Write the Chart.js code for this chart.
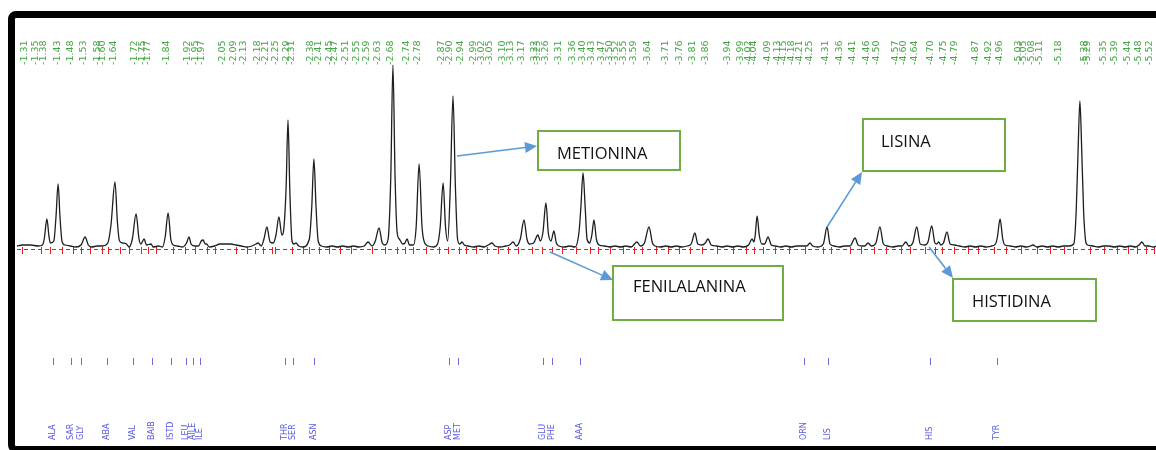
<!DOCTYPE html>
<html>
<head>
<meta charset="utf-8">
<script src="https://cdn.jsdelivr.net/npm/chart.js@4"></script>
<style>
  html, body { margin: 0; padding: 0; background: #fff; }
  #wrap { position: relative; width: 1156px; height: 450px; overflow: hidden; }
  #chart { position: absolute; left: 0; top: 0; }
  #frame {
    position: absolute; left: 8px; top: 11px; width: 1220px; height: 442px;
    box-sizing: border-box; border: 7px solid #000; border-radius: 8px;
  }
</style>
</head>
<body>
<div id="wrap">
  <canvas id="chart" width="1156" height="450"></canvas>
  <div id="frame"></div>
</div>
<script>
// Peak retention times printed above the trace (min)
const peakLabels = [1.31, 1.35, 1.38, 1.43, 1.48, 1.53, 1.58, 1.60, 1.64, 1.72, 1.75, 1.77, 1.84,
  1.92, 1.95, 1.97, 2.05, 2.09, 2.13, 2.18, 2.21, 2.25, 2.29, 2.31, 2.38, 2.41, 2.45, 2.47,
  2.51, 2.55, 2.59, 2.63, 2.68, 2.74, 2.78, 2.87, 2.90, 2.94, 2.99, 3.02, 3.05, 3.10, 3.13,
  3.17, 3.22, 3.23, 3.26, 3.31, 3.36, 3.40, 3.43, 3.47, 3.50, 3.52, 3.55, 3.59, 3.64, 3.71,
  3.76, 3.81, 3.86, 3.94, 3.99, 4.02, 4.04, 4.09, 4.13, 4.15, 4.18, 4.21, 4.25, 4.31, 4.36,
  4.41, 4.46, 4.50, 4.57, 4.60, 4.64, 4.70, 4.75, 4.79, 4.87, 4.92, 4.96, 5.03, 5.05, 5.08,
  5.11, 5.18, 5.28, 5.29, 5.35, 5.39, 5.44, 5.48, 5.52];

// Expected positions of the amino acids (blue marks at the bottom)
const aminoNames = ['ALA', 'SAR', 'GLY', 'ABA', 'VAL', 'BAIB', 'ISTD', 'LEU', 'AILE', 'ILE',
  'THR', 'SER', 'ASN', 'ASP', 'MET', 'GLU', 'PHE', 'AAA', 'ORN', 'LIS', 'HIS', 'TYR'];
const aminoTimes = [1.415, 1.482, 1.520, 1.617, 1.714, 1.786, 1.857, 1.913, 1.939, 1.965,
  2.284, 2.314, 2.392, 2.898, 2.932, 3.250, 3.284, 3.389, 4.228, 4.317, 4.699, 4.950];

// Integration cut marks on the baseline
const cutTimes = [1.30, 1.37, 1.405, 1.45, 1.49, 1.52, 1.555, 1.60, 1.62, 1.665, 1.70, 1.745,
  1.77, 1.80, 1.865, 1.91, 1.945, 1.99, 2.02, 2.10, 2.14, 2.17, 2.20, 2.235, 2.248, 2.31,
  2.35, 2.375, 2.41, 2.45, 2.49, 2.53, 2.61, 2.66, 2.705, 2.735, 2.765, 2.81, 2.86, 2.895,
  2.935, 2.96, 3.00, 3.04, 3.08, 3.12, 3.155, 3.21, 3.245, 3.285, 3.32, 3.375, 3.425, 3.455,
  3.50, 3.55, 3.59, 3.62, 3.675, 3.72, 3.76, 3.80, 3.845, 3.90, 3.96, 4.01, 4.04, 4.075,
  4.12, 4.17, 4.23, 4.30, 4.33, 4.40, 4.44, 4.49, 4.535, 4.59, 4.625, 4.68, 4.72, 4.745,
  4.79, 4.84, 4.88, 4.94, 4.985, 5.04, 5.10, 5.15, 5.20, 5.235, 5.30, 5.35, 5.40, 5.44,
  5.475, 5.51, 5.54];

// Detector trace: [time, signal]
const trace = [
  [1.28, 1], [1.30, 2], [1.33, 2], [1.36, 1], [1.375, 2],
  [1.382, 8], [1.392, 28], [1.400, 10], [1.405, 4],
  [1.418, 6], [1.426, 30], [1.434, 63], [1.441, 30], [1.449, 5], [1.46, 2], [1.48, 1], [1.50, 0], [1.52, 2],
  [1.535, 10], [1.547, 2], [1.56, 0], [1.58, 1], [1.60, 1], [1.62, 4],
  [1.632, 22], [1.647, 65], [1.656, 25], [1.664, 6], [1.675, 4], [1.69, 3], [1.70, 0], [1.712, 8],
  [1.726, 33], [1.737, 8], [1.744, 3], [1.756, 8], [1.765, 2], [1.782, 3], [1.79, 0], [1.81, 1], [1.825, 0], [1.835, 10],
  [1.846, 34], [1.856, 8], [1.865, 2], [1.88, 1], [1.90, 0], [1.915, 4], [1.924, 10], [1.932, 3], [1.945, 1],
  [1.96, 1], [1.97, 6], [1.977, 7], [1.985, 3], [1.99, 3], [2.00, 0], [2.02, 1], [2.04, 3], [2.06, 3], [2.08, 3],
  [2.10, 2], [2.12, 1], [2.14, 0], [2.16, 1], [2.175, 3], [2.183, 4], [2.195, 1], [2.205, 8],
  [2.216, 20], [2.228, 5], [2.24, 4], [2.25, 12], [2.261, 30], [2.272, 12], [2.280, 20],
  [2.288, 60], [2.295, 127], [2.302, 55], [2.310, 6], [2.318, 3], [2.325, 4], [2.335, 1], [2.35, 0],
  [2.375, 8], [2.384, 40], [2.392, 88], [2.400, 40], [2.408, 6], [2.42, 1], [2.44, 0], [2.46, 1], [2.48, 0],
  [2.50, 1], [2.52, 0], [2.54, 1], [2.56, 0], [2.58, 1], [2.595, 5], [2.61, 1], [2.622, 6], [2.636, 19],
  [2.648, 4], [2.658, 2],
  [2.670, 8], [2.680, 70], [2.688, 182], [2.696, 70], [2.704, 14], [2.712, 8], [2.725, 3], [2.733, 4],
  [2.741, 8], [2.750, 2], [2.765, 2], [2.775, 20], [2.786, 83], [2.797, 20], [2.807, 4], [2.82, 1], [2.84, 0],
  [2.855, 3], [2.865, 20], [2.876, 64], [2.885, 20], [2.893, 6],
  [2.903, 60], [2.913, 151], [2.922, 60], [2.930, 8], [2.938, 3], [2.947, 5], [2.955, 2], [2.97, 1],
  [2.99, 0], [3.01, 1], [3.03, 0], [3.045, 2], [3.059, 4], [3.07, 1], [3.09, 0], [3.11, 1], [3.125, 2],
  [3.138, 5], [3.15, 1], [3.165, 8], [3.179, 27], [3.19, 8], [3.20, 3], [3.215, 4], [3.231, 12], [3.24, 6],
  [3.250, 15], [3.261, 44], [3.270, 14], [3.280, 6], [3.291, 16], [3.30, 4], [3.31, 1], [3.33, 0], [3.35, 1],
  [3.37, 0], [3.385, 15], [3.392, 40], [3.400, 74], [3.408, 40], [3.415, 8], [3.425, 4], [3.433, 12],
  [3.441, 27], [3.450, 8], [3.46, 2], [3.48, 1], [3.50, 0], [3.52, 1], [3.54, 0], [3.56, 1], [3.58, 0],
  [3.602, 5], [3.615, 1], [3.63, 4], [3.647, 20], [3.66, 4], [3.67, 1], [3.69, 0], [3.71, 1], [3.73, 0],
  [3.75, 1], [3.77, 0], [3.79, 1], [3.805, 3], [3.819, 14], [3.83, 3], [3.845, 2], [3.858, 4], [3.868, 8],
  [3.88, 2], [3.90, 1], [3.92, 0], [3.94, 1], [3.96, 0], [3.98, 1], [4.00, 0], [4.02, 2], [4.033, 8],
  [4.04, 5], [4.045, 12], [4.052, 31], [4.06, 12], [4.07, 3], [4.08, 3], [4.093, 10], [4.105, 2], [4.12, 1],
  [4.14, 0], [4.16, 1], [4.18, 0], [4.20, 1], [4.22, 1], [4.238, 1], [4.250, 4], [4.26, 1], [4.28, 0],
  [4.30, 3], [4.314, 20], [4.325, 3], [4.34, 1], [4.36, 0], [4.38, 1], [4.40, 1], [4.419, 9], [4.43, 2],
  [4.445, 1], [4.455, 1], [4.468, 4], [4.48, 1], [4.497, 4], [4.512, 20], [4.525, 3], [4.54, 1], [4.56, 0],
  [4.58, 1], [4.595, 1], [4.609, 5], [4.62, 1], [4.635, 4], [4.650, 20], [4.663, 3], [4.68, 2], [4.692, 5],
  [4.706, 21], [4.718, 4], [4.725, 3], [4.732, 5], [4.74, 2], [4.75, 4], [4.763, 15], [4.775, 3], [4.79, 2],
  [4.81, 1], [4.83, 0], [4.85, 1], [4.87, 0], [4.89, 1], [4.91, 0], [4.93, 1], [4.945, 3], [4.952, 10],
  [4.962, 28], [4.972, 8], [4.98, 2], [5.00, 1], [5.02, 0], [5.04, 1], [5.06, 0], [5.075, 1], [5.085, 2],
  [5.10, 0], [5.12, 1], [5.14, 0], [5.16, 1], [5.18, 0], [5.20, 1], [5.22, 1], [5.238, 3], [5.247, 35],
  [5.254, 95], [5.261, 146], [5.268, 95], [5.275, 35], [5.284, 4], [5.29, 2], [5.31, 1], [5.33, 0],
  [5.35, 1], [5.37, 1], [5.39, 0], [5.41, 1], [5.43, 0], [5.45, 1], [5.47, 0], [5.483, 2], [5.493, 5],
  [5.505, 1], [5.52, 1], [5.535, 0], [5.55, 1]
];

// Callouts: name, the point on the trace the arrow leaves from
const calloutNames = ['METIONINA', 'FENILALANINA', 'LISINA', 'HISTIDINA'];
const calloutTimes = [2.928, 3.276, 4.314, 4.696];
const calloutLevels = [91, -5, 20, 0];

// Box geometry for the callouts (pixels)
const calloutBoxes = [
  { x: 538, y: 131, w: 142, h: 39, tx: 557, ty: 154, tip: [537, 146] },
  { x: 613, y: 266, w: 170, h: 54, tx: 633, ty: 287, tip: [613, 280] },
  { x: 863, y: 119, w: 142, h: 52, tx: 881, ty: 142, tip: [862, 172] },
  { x: 953, y: 279, w: 143, h: 42, tx: 972, ty: 302, tip: [953, 278] }
];

function drawArrow(ctx, x1, y1, x2, y2) {
  const ang = Math.atan2(y2 - y1, x2 - x1);
  const len = 12, half = 5.5;
  const bx = x2 - len * Math.cos(ang), by = y2 - len * Math.sin(ang);
  ctx.strokeStyle = '#5b9bd5';
  ctx.fillStyle = '#5b9bd5';
  ctx.lineWidth = 1.6;
  ctx.beginPath();
  ctx.moveTo(x1, y1);
  ctx.lineTo(bx, by);
  ctx.stroke();
  ctx.beginPath();
  ctx.moveTo(x2, y2);
  ctx.lineTo(bx - half * Math.sin(ang), by + half * Math.cos(ang));
  ctx.lineTo(bx + half * Math.sin(ang), by - half * Math.cos(ang));
  ctx.closePath();
  ctx.fill();
}

const decorPlugin = {
  id: 'decor',
  beforeDatasetsDraw(chart) {
    const ctx = chart.ctx, xs = chart.scales.x, ys = chart.scales.y;
    const yb = ys.getPixelForValue(-2);
    ctx.save();
    // red dashed baseline
    ctx.strokeStyle = '#e61e1e';
    ctx.lineWidth = 1;
    ctx.setLineDash([4, 3]);
    ctx.beginPath();
    ctx.moveTo(chart.chartArea.left, yb + 0.5);
    ctx.lineTo(chart.chartArea.right, yb + 0.5);
    ctx.stroke();
    ctx.setLineDash([]);
    // cut marks
    cutTimes.forEach(t => {
      const x = Math.round(xs.getPixelForValue(t)) + 0.5;
      ctx.beginPath();
      ctx.moveTo(x, yb - 2);
      ctx.lineTo(x, yb + 5);
      ctx.stroke();
    });
    ctx.restore();
  },
  afterDraw(chart) {
    const ctx = chart.ctx, xs = chart.scales.x, ys = chart.scales.y;
    ctx.save();
    // green retention time labels
    ctx.fillStyle = '#45a445';
    ctx.font = '9.5px "DejaVu Sans"';
    ctx.textAlign = 'left';
    ctx.textBaseline = 'middle';
    peakLabels.forEach(t => {
      ctx.save();
      ctx.translate(xs.getPixelForValue(t), 65);
      ctx.rotate(-Math.PI / 2);
      ctx.fillText('-' + t.toFixed(2), 0, 0);
      ctx.restore();
    });
    // blue amino acid marks and names
    ctx.strokeStyle = '#6b6be6';
    ctx.fillStyle = '#5a5ae0';
    ctx.font = '8px "DejaVu Sans"';
    ctx.lineWidth = 1;
    aminoTimes.forEach((t, i) => {
      const x = xs.getPixelForValue(t);
      ctx.beginPath();
      ctx.moveTo(Math.round(x) + 0.5, 358);
      ctx.lineTo(Math.round(x) + 0.5, 365);
      ctx.stroke();
      ctx.save();
      ctx.translate(x, 440);
      ctx.rotate(-Math.PI / 2);
      ctx.fillText(aminoNames[i], 0, 0);
      ctx.restore();
    });
    // callouts
    calloutNames.forEach((name, i) => {
      const b = calloutBoxes[i];
      ctx.fillStyle = '#fff';
      ctx.fillRect(b.x, b.y, b.w, b.h);
      ctx.strokeStyle = '#70ad47';
      ctx.lineWidth = 2;
      ctx.strokeRect(b.x, b.y, b.w, b.h);
      ctx.fillStyle = '#111';
      ctx.font = '16.5px "Open Sans"';
      ctx.textAlign = 'left';
      ctx.textBaseline = 'middle';
      ctx.fillText(name, b.tx, b.ty);
      drawArrow(ctx, xs.getPixelForValue(calloutTimes[i]), ys.getPixelForValue(calloutLevels[i]), b.tip[0], b.tip[1]);
    });
    ctx.restore();
  }
};

document.addEventListener('DOMContentLoaded', function () {
  const ctx = document.getElementById('chart').getContext('2d');
  new Chart(ctx, {
    type: 'line',
    data: {
      datasets: [{
        data: trace.map(p => ({ x: p[0], y: p[1] })),
        borderColor: '#1e1e1e',
        borderWidth: 1.3,
        pointRadius: 0,
        fill: false,
        cubicInterpolationMode: 'monotone'
      }]
    },
    options: {
      responsive: false,
      devicePixelRatio: 1,
      animation: false,
      layout: { padding: { left: 17, right: 0, top: 0, bottom: 0 } },
      plugins: { legend: { display: false }, tooltip: { enabled: false } },
      scales: {
        x: { type: 'linear', min: 1.28, max: 5.546, display: false },
        y: { min: -203, max: 247, display: false }
      }
    },
    plugins: [decorPlugin]
  });
});
</script>
</body>
</html>
